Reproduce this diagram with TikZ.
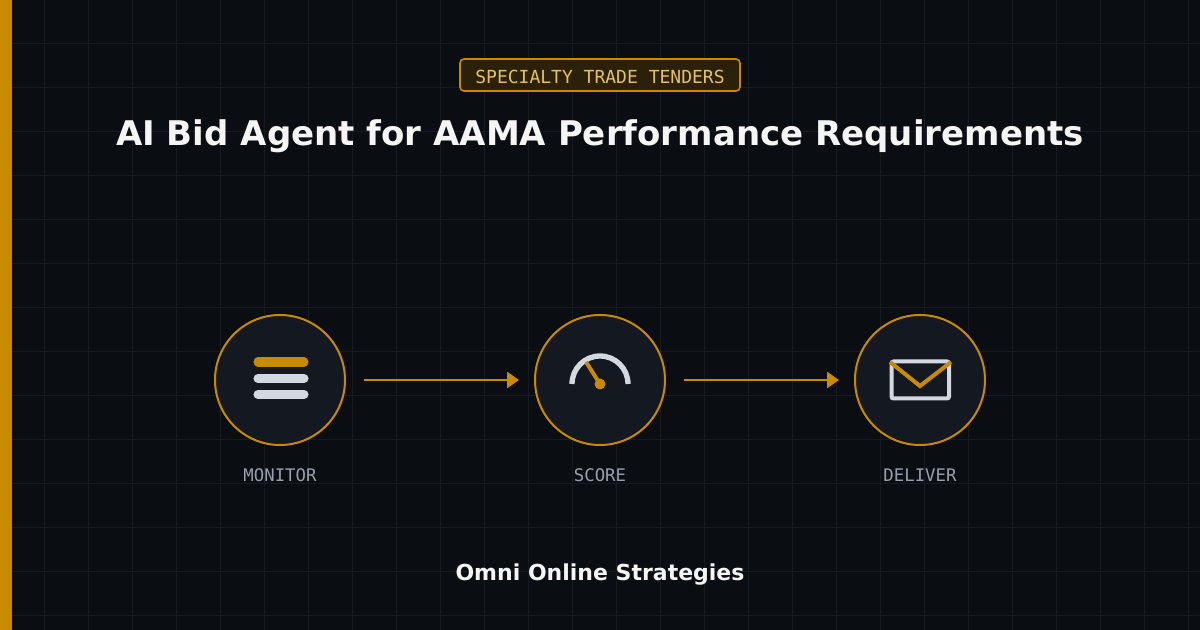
\documentclass[tikz,border=0pt]{standalone}
\usepackage{fontspec}
\usetikzlibrary{arrows.meta}
\setmainfont{DejaVu Sans}
\newfontfamily\monof{DejaVu Sans Mono}
\definecolor{bg}{HTML}{0A0D12}
\definecolor{gridc}{HTML}{161B22}
\definecolor{amber}{HTML}{C98A00}
\definecolor{circfill}{HTML}{131821}
\definecolor{iconw}{HTML}{D4D8E0}
\definecolor{badgefill}{HTML}{2A2108}
\definecolor{badgetxt}{HTML}{E8C060}
\definecolor{labc}{HTML}{9AA0AA}
\begin{document}
\begin{tikzpicture}[x=0.75pt,y=-0.75pt,
  stage/.style={circle,draw=amber,line width=1.5pt,fill=circfill,minimum size=97.5pt,inner sep=0pt},
  lab/.style={font=\monof\fontsize{13}{15}\selectfont,text=labc},
  arr/.style={draw=amber,line width=2.2pt,-{Triangle[length=9pt,width=12pt]}}]
\fill[bg] (0,0) rectangle (1200,630);
\useasboundingbox (0,0) rectangle (1200,630);
\foreach \x in {44,88,...,1200} \draw[gridc,line width=0.75pt] (\x,0) -- (\x,630);
\foreach \y in {44,88,...,630} \draw[gridc,line width=0.75pt] (0,\y) -- (1200,\y);
\fill[amber] (0,0) rectangle (12,630);
\node[draw=amber,line width=1.2pt,fill=badgefill,rounded corners=3pt,minimum width=210pt,minimum height=24pt,inner sep=0pt] (badge) at (600,75) {};
\node[text=badgetxt,font=\monof\fontsize{13.5}{15}\selectfont] (badget) at (600,77) {SPECIALTY TRADE TENDERS};
\node[text=white!92!gray,font=\bfseries\fontsize{25.5}{30}\selectfont] (title) at (600,136) {AI Bid Agent for AAMA Performance Requirements};
\node[stage] (m) at (280,380) {};
\node[stage] (s) at (600,380) {};
\node[stage] (d) at (920,380) {};
\coordinate (a1s) at (364,380); \coordinate (a1e) at (519,380);
\coordinate (a2s) at (684,380); \coordinate (a2e) at (839,380);
\draw[arr] (a1s) -- (a1e);
\draw[arr] (a2s) -- (a2e);
% monitor
\draw[amber,line width=6.8pt,line cap=round] (258,362) -- (304,362);
\draw[iconw,line width=6.8pt,line cap=round] (258,378.5) -- (304,378.5);
\draw[iconw,line width=6.8pt,line cap=round] (258,394.5) -- (304,394.5);
% score
\draw[iconw,line width=4pt] (572,384) arc[start angle=180,end angle=360,radius=28];
\draw[amber,line width=3pt] (586,362) -- (600,384);
\fill[amber] (600,384) circle[radius=5.5];
% deliver
\draw[iconw,line width=3pt,rounded corners=1.5pt] (891.5,361.5) rectangle (949,398.5);
\draw[amber,line width=3pt] (890,362) -- (920,386) -- (951,362);
\node[lab] (ml) at (280,475) {MONITOR};
\node[lab] (sl) at (600,475) {SCORE};
\node[lab] (dl) at (920,475) {DELIVER};
\node[text=white!92!gray,font=\bfseries\fontsize{16.5}{20}\selectfont] (foot) at (600,575) {Omni Online Strategies};
\end{tikzpicture}
\end{document}
